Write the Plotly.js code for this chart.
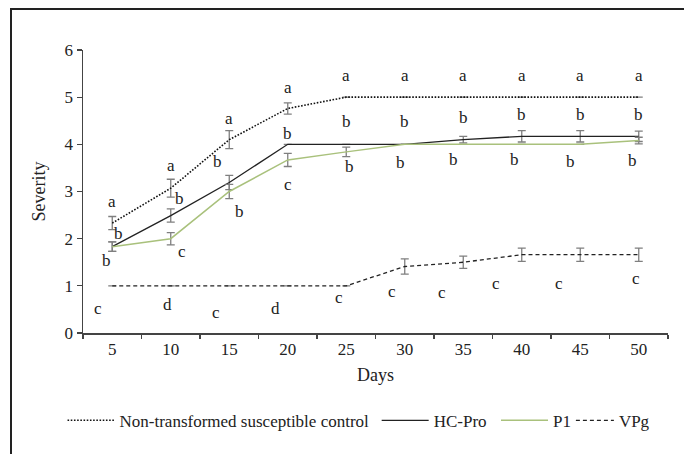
<!DOCTYPE html>
<html>
<head>
<meta charset="utf-8">
<script src="https://cdn.plot.ly/plotly-3.0.1.min.js"></script>
<style>
  html, body { margin: 0; padding: 0; background: #fff; }
  #wrap { position: relative; width: 684px; height: 454px; overflow: hidden; }
  #chart { position: absolute; left: 0; top: 0; width: 684px; height: 454px; }
  #frame { position: absolute; left: 10px; top: 8px; width: 700px; height: 480px;
           border-left: 2px solid #222; border-top: 2px solid #222; pointer-events: none; }
</style>
</head>
<body>
<div id="wrap">
  <div id="chart"></div>
  <div id="frame"></div>
</div>
<script>
// ---- data ----
const days = ['5', '10', '15', '20', '25', '30', '35', '40', '45', '50'];

const controlY   = [2.33, 3.07, 4.10, 4.76, 5.00, 5.00, 5.00, 5.00, 5.00, 5.00];
const controlErr = [0.14, 0.19, 0.19, 0.12, null, null, null, null, null, null];

const hcproY   = [1.83, 2.49, 3.19, 4.00, 4.00, 4.00, 4.10, 4.17, 4.17, 4.17];
const hcproErr = [0.10, 0.14, 0.15, null, null, null, 0.07, 0.12, 0.12, 0.11];

const p1Y   = [1.83, 2.00, 3.00, 3.67, 3.84, 4.00, 4.00, 4.00, 4.00, 4.08];
const p1Err = [0.10, 0.13, 0.15, 0.14, 0.10, null, null, null, null, 0.07];

const vpgY   = [1.00, 1.00, 1.00, 1.00, 1.00, 1.41, 1.50, 1.66, 1.66, 1.66];
const vpgErr = [null, null, null, null, null, 0.16, 0.13, 0.14, 0.14, 0.14];

// significance letters
const controlLetters = ['a', 'a', 'a', 'a', 'a', 'a', 'a', 'a', 'a', 'a'];
const hcproLetters   = ['b', 'b', 'b', 'b', 'b', 'b', 'b', 'b', 'b', 'b'];
const p1Letters      = ['b', 'c', 'b', 'c', 'b', 'b', 'b', 'b', 'b', 'b'];
const vpgLetters     = ['c', 'd', 'c', 'd', 'c', 'c', 'c', 'c', 'c', 'c'];

// letter placement (y in data units, x shift in category widths)
const controlLetterY  = [2.79, 3.56, 4.55, 5.21, 5.45, 5.45, 5.45, 5.45, 5.45, 5.45];
const controlLetterDx = [0, 0, 0, 0, 0, 0, 0, 0, 0, 0];
const hcproLetterY    = [2.12, 2.85, 3.63, 4.22, 4.48, 4.48, 4.57, 4.63, 4.63, 4.63];
const hcproLetterDx   = [0.10, 0.15, -0.20, 0, 0, 0, 0, 0, 0, 0];
const p1LetterY       = [1.53, 1.72, 2.57, 3.14, 3.54, 3.61, 3.67, 3.67, 3.63, 3.66];
const p1LetterDx      = [-0.10, 0.20, 0.18, 0, 0.05, -0.07, -0.17, -0.12, -0.16, -0.10];
const vpgLetterY      = [0.51, 0.61, 0.43, 0.51, 0.76, 0.89, 0.85, 1.04, 1.04, 1.15];
const vpgLetterDx     = [-0.24, -0.05, -0.23, -0.21, -0.13, -0.21, -0.37, -0.44, -0.37, -0.05];

// ---- styling ----
const FONT = '"Liberation Serif", "Times New Roman", Times, serif';
const TXT = '#222';
const AX = '#444';
const ERRC = '#7f7f7f';

function errBar(arr) {
  return { type: 'data', array: arr, visible: true, color: ERRC, thickness: 1.3, width: 4 };
}

const traces = [
  { x: days, y: controlY, name: 'Non-transformed susceptible control', type: 'scatter', mode: 'lines',
    legend: 'legend', line: { color: '#111', width: 1.6, dash: '1.6px,1.6px' }, error_y: errBar(controlErr) },
  { x: days, y: hcproY, name: 'HC-Pro', type: 'scatter', mode: 'lines',
    legend: 'legend2', line: { color: '#222', width: 1.3 }, error_y: errBar(hcproErr) },
  { x: days, y: p1Y, name: 'P1', type: 'scatter', mode: 'lines',
    legend: 'legend3', line: { color: '#a9c17c', width: 1.5 }, error_y: errBar(p1Err) },
  { x: days, y: vpgY, name: 'VPg', type: 'scatter', mode: 'lines',
    legend: 'legend4', line: { color: '#222', width: 1.3, dash: '4px,3px' }, error_y: errBar(vpgErr) }
];

const annotations = [];
function addLetters(letters, ys, dxs) {
  letters.forEach((t, i) => {
    annotations.push({
      x: i + dxs[i], y: ys[i], xref: 'x', yref: 'y', text: t, showarrow: false,
      xanchor: 'center', yanchor: 'middle',
      font: { family: FONT, size: 17, color: TXT }
    });
  });
}
addLetters(controlLetters, controlLetterY, controlLetterDx);
addLetters(hcproLetters, hcproLetterY, hcproLetterDx);
addLetters(p1Letters, p1LetterY, p1LetterDx);
addLetters(vpgLetters, vpgLetterY, vpgLetterDx);

const boundaryVals = days.map((d, i) => i - 0.5).concat([days.length - 0.5]);

function legendAt(x, w) {
  return {
    orientation: 'h', x: x, xanchor: 'left', y: -0.31, yanchor: 'middle',
    font: { family: FONT, size: 17, color: TXT }, bgcolor: 'rgba(0,0,0,0)',
    itemwidth: w, borderwidth: 0
  };
}

const layout = {
  width: 684, height: 454,
  margin: { l: 83, r: 16, t: 50, b: 121 },
  paper_bgcolor: '#fff', plot_bgcolor: '#fff',
  font: { family: FONT, size: 17, color: TXT },
  showlegend: true,
  legend: legendAt(-0.035, 47),
  legend2: legendAt(0.502, 47),
  legend3: legendAt(0.706, 47),
  legend4: legendAt(0.834, 38),
  xaxis: {
    type: 'category', categoryorder: 'array', categoryarray: days,
    range: [-0.5, days.length - 0.5],
    showline: true, linecolor: AX, linewidth: 1.5,
    ticks: 'outside', ticklen: 4, tickcolor: AX, tickwidth: 1.3,
    tickson: 'boundaries', showgrid: false, zeroline: false,
    tickfont: { family: FONT, size: 17, color: TXT },
    title: { text: 'Days', font: { family: FONT, size: 18, color: TXT }, standoff: 10 }
  },
  xaxis2: {
    overlaying: 'x', type: 'linear', range: [-0.5, days.length - 0.5],
    tickmode: 'array', tickvals: boundaryVals, showticklabels: false,
    ticks: 'inside', ticklen: 4, tickcolor: AX, tickwidth: 1.3,
    showline: false, showgrid: false, zeroline: false
  },
  yaxis: {
    range: [0, 6], dtick: 1, tick0: 0,
    showline: true, linecolor: AX, linewidth: 1.5,
    ticks: 'outside', ticklen: 5, tickcolor: AX, tickwidth: 1.3,
    showgrid: false, zeroline: false,
    tickfont: { family: FONT, size: 17, color: TXT },
    title: { text: 'Severity', font: { family: FONT, size: 18, color: TXT }, standoff: 14 }
  },
  yaxis2: {
    overlaying: 'y', range: [0, 6], dtick: 1, tick0: 0, showticklabels: false,
    ticks: 'inside', ticklen: 5, tickcolor: AX, tickwidth: 1.3,
    minor: { ticks: 'inside', dtick: 0.2, ticklen: 4, tickcolor: AX, tickwidth: 1 },
    showline: false, showgrid: false, zeroline: false
  },
  annotations: annotations
};

Plotly.newPlot('chart', traces, layout, { displayModeBar: false, staticPlot: true });
</script>
</body>
</html>
